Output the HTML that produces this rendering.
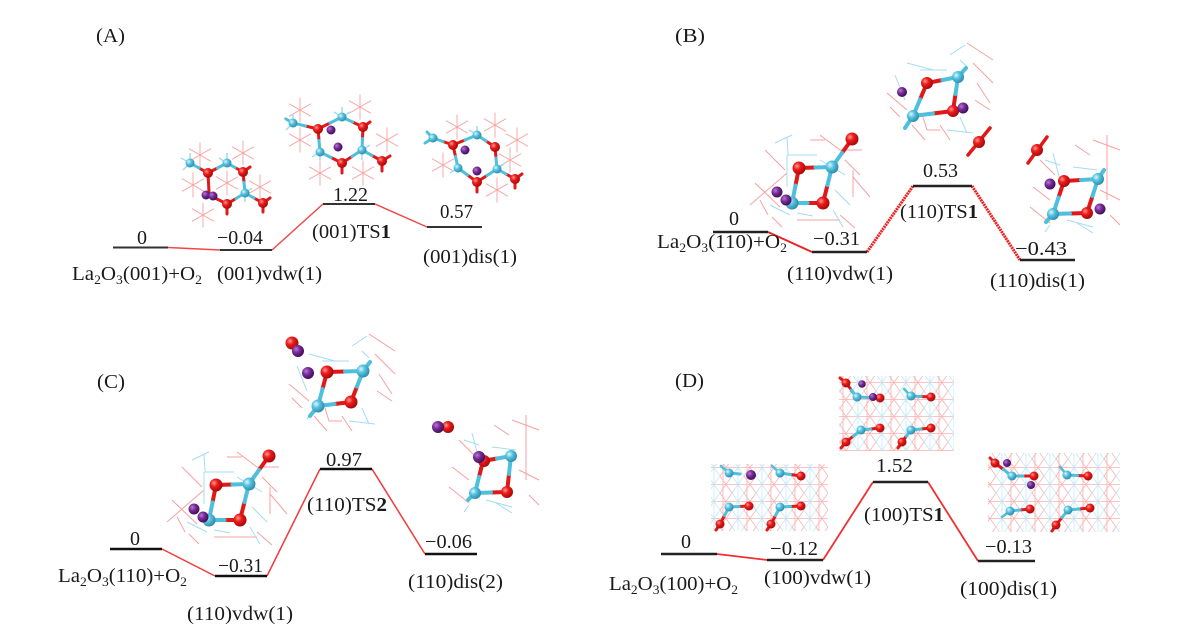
<!DOCTYPE html>
<html>
<head>
<meta charset="utf-8">
<style>
html,body{margin:0;padding:0;background:#fff;}
svg{display:block;}
text{font-family:"Liberation Serif","DejaVu Serif",serif;font-size:20px;fill:#1a1a1a;}
</style>
</head>
<body>
<svg width="1190" height="631" viewBox="0 0 1190 631" xmlns="http://www.w3.org/2000/svg">
<defs>
  <radialGradient id="gO" cx="35%" cy="35%" r="70%">
    <stop offset="0" stop-color="#ff9a90"/><stop offset="0.4" stop-color="#ee1a1a"/><stop offset="1" stop-color="#a00808"/>
  </radialGradient>
  <radialGradient id="gC" cx="35%" cy="35%" r="70%">
    <stop offset="0" stop-color="#e0f8ff"/><stop offset="0.4" stop-color="#58c4e0"/><stop offset="1" stop-color="#2a88a8"/>
  </radialGradient>
  <radialGradient id="gP" cx="35%" cy="35%" r="70%">
    <stop offset="0" stop-color="#b878d8"/><stop offset="0.45" stop-color="#742a92"/><stop offset="1" stop-color="#3c0c55"/>
  </radialGradient>
  <g id="st"><path d="M0,-12.5 V12.5 M-11,-6.3 L11,6.3 M-11,6.3 L11,-6.3" stroke="#f7a8a8" stroke-width="1" fill="none"/></g>
  <pattern id="grid" width="24" height="17" patternUnits="userSpaceOnUse">
    <path d="M0,0 L12,17 M12,0 L0,17 M0,8.5 H24 M3,0 V17" stroke="#f5a0a0" stroke-width="0.8" fill="none"/>
    <path d="M12,0 L24,17 M24,0 L12,17 M18,0 V17" stroke="#b4e2f4" stroke-width="0.8" fill="none"/>
  </pattern>

  <g id="vdw110">
    <path d="M750,205 L787,173 M755,183 L780,207 M820,135 L840,150 L862,150 M853,177 L870,197 M853,170 L853,197 M797,220 L840,220 M772,217 L782,227 M765,150 L785,170 M760,200 L768,215 M845,160 L860,175 M810,140 L825,140 M840,215 L855,228" stroke="#f7a0a0" stroke-width="1" fill="none"/>
    <path d="M775,143 L792,135 M787,137 L788,155 L817,155 M787,155 L787,187 M833,210 L843,227 M797,213 L813,216 M820,160 L845,175 M835,190 L850,205 M770,205 L790,215" stroke="#a4dcf2" stroke-width="1" fill="none"/>
    <path d="M852,139 L842,153 M799,168 L815.5,167.5 M799,168 L795.5,185.5 M823,203 L807.5,203 M823,203 L827.5,185" stroke="#e01818" stroke-width="4" stroke-linecap="round" fill="none"/>
    <path d="M832,167 L842,153 M832,167 L815.5,167.5 M792,203 L795.5,185.5 M792,203 L807.5,203 M832,167 L827.5,185" stroke="#4ebfdc" stroke-width="4" stroke-linecap="round" fill="none"/>
    <circle cx="852" cy="139" r="6.5" fill="url(#gO)"/>
    <circle cx="832" cy="167" r="6.5" fill="url(#gC)"/>
    <circle cx="799" cy="168" r="6.5" fill="url(#gO)"/>
    <circle cx="823" cy="203" r="6.5" fill="url(#gO)"/>
    <circle cx="792" cy="203" r="6.5" fill="url(#gC)"/>
    <circle cx="777" cy="192" r="5.5" fill="url(#gP)"/>
    <circle cx="786" cy="200" r="5.5" fill="url(#gP)"/>
  </g>
  <g id="tswire">
    <path d="M887,93 L907,110 M890,107 L900,117 M927,130 L940,130 M977,83 L990,103 M967,43 L993,60 M973,63 L993,83 M923,117 L927,130 M912,125 L925,140 M975,100 L990,110 M940,125 L950,140" stroke="#f7a0a0" stroke-width="1" fill="none"/>
    <path d="M907,63 L933,70 M920,70 L947,70 M960,60 L967,67 M947,130 L973,133 M960,117 L967,133 M895,75 L905,100 M950,55 L965,45 M905,128 L913,116" stroke="#a4dcf2" stroke-width="1" fill="none"/>
  </g>
  <g id="diswire">
    <path d="M1093,140 L1120,150 M1107,135 L1107,200 M1033,187 L1050,200 M1030,207 L1050,223 M1040,160 L1055,175 M1100,190 L1120,200 M1075,145 L1090,155 M1110,215 L1120,225" stroke="#f7a0a0" stroke-width="1" fill="none"/>
    <path d="M1053,153 L1060,180 M1073,167 L1097,170 M1067,220 L1093,227 M1077,223 L1093,233 M1050,225 L1045,232 M1060,165 L1045,160" stroke="#a4dcf2" stroke-width="1" fill="none"/>
  </g>
</defs>

<!-- ================= PANEL A ================= -->
<text x="96" y="42" textLength="29" lengthAdjust="spacingAndGlyphs">(A)</text>

<use href="#st" x="200" y="155"/><use href="#st" x="243" y="153"/><use href="#st" x="193" y="185"/>
<use href="#st" x="227" y="183"/><use href="#st" x="260" y="187"/><use href="#st" x="203" y="215"/>
<path d="M190,163 L181,158 M190,163 L190,153 M190,163 L183,170 M227,163 L227,153 M227,163 L219,158 M245,193 L252,188 M245,193 L245,202" stroke="#a4dcf2" stroke-width="1.5" fill="none"/>
<path d="M208,173 L199,168 M208,173 L217.5,168 M243,172 L235,167.5 M243,172 L244,182.5 M208,173 L209,192 M215,198 L227,204 M227,204 L236,198.5 M263,203 L254,198 M227,204 L227,214 M263,203 L263,212 M263,203 L270,198 M243,172 L250,167" stroke="#e01818" stroke-width="3" stroke-linecap="round" fill="none"/>
<path d="M190,163 L199,168 M227,163 L217.5,168 M227,163 L235,167.5 M245,193 L244,182.5 M245,193 L236,198.5 M245,193 L254,198" stroke="#4ebfdc" stroke-width="3" stroke-linecap="round" fill="none"/>
<circle cx="190" cy="163" r="4.5" fill="url(#gC)"/><circle cx="227" cy="163" r="4.5" fill="url(#gC)"/>
<circle cx="245" cy="193" r="4.5" fill="url(#gC)"/>
<circle cx="208" cy="173" r="5" fill="url(#gO)"/><circle cx="243" cy="172" r="5" fill="url(#gO)"/>
<circle cx="227" cy="204" r="5" fill="url(#gO)"/><circle cx="263" cy="203" r="5" fill="url(#gO)"/>
<circle cx="206" cy="195" r="4.5" fill="url(#gP)"/><circle cx="213" cy="196" r="4.5" fill="url(#gP)"/>

<use href="#st" x="300" y="110"/><use href="#st" x="360" y="107"/><use href="#st" x="387" y="140"/>
<use href="#st" x="300" y="140"/><use href="#st" x="320" y="173"/><use href="#st" x="363" y="173"/>
<path d="M293,123 L284,118 M293,123 L293,114 M293,123 L286,130 M342,117 L342,107 M342,117 L334,112 M342,117 L350,112 M320,152 L312,157 M320,152 L320,160 M362,150 L370,145 M362,150 L362,160" stroke="#a4dcf2" stroke-width="1.5" fill="none"/>
<path d="M318,129 L305.5,126 M318,129 L330,123 M363,127 L352.5,122 M363,127 L362.5,138.5 M342,163 L352,156.5 M342,163 L331,157.5 M318,129 L319,140.5 M382,161 L372,155.5 M342,163 L342,173 M382,161 L390,156 M382,161 L382,171 M363,127 L370,122" stroke="#e01818" stroke-width="3" stroke-linecap="round" fill="none"/>
<path d="M293,123 L305.5,126 M342,117 L330,123 M342,117 L352.5,122 M362,150 L362.5,138.5 M362,150 L352,156.5 M320,152 L331,157.5 M320,152 L319,140.5 M362,150 L372,155.5 M293,123 L286,119" stroke="#4ebfdc" stroke-width="3" stroke-linecap="round" fill="none"/>
<circle cx="293" cy="123" r="4.5" fill="url(#gC)"/><circle cx="342" cy="117" r="4.5" fill="url(#gC)"/>
<circle cx="320" cy="152" r="4.5" fill="url(#gC)"/><circle cx="362" cy="150" r="4.5" fill="url(#gC)"/>
<circle cx="318" cy="129" r="5" fill="url(#gO)"/><circle cx="363" cy="127" r="5" fill="url(#gO)"/>
<circle cx="342" cy="163" r="5" fill="url(#gO)"/><circle cx="382" cy="161" r="5" fill="url(#gO)"/>
<circle cx="331" cy="130" r="4.5" fill="url(#gP)"/><circle cx="338" cy="147" r="4.5" fill="url(#gP)"/>

<use href="#st" x="457" y="127"/><use href="#st" x="495" y="125"/><use href="#st" x="510" y="160"/>
<use href="#st" x="443" y="165"/><use href="#st" x="497" y="190"/><use href="#st" x="517" y="140"/>
<path d="M477,135 L477,126 M477,135 L469,130 M458,168 L450,173 M497,169 L505,163" stroke="#a4dcf2" stroke-width="1.5" fill="none"/>
<path d="M453,145 L443,141.5 M453,145 L465,140 M495,147 L486,141 M495,147 L496,158 M477,182 L487,175.5 M477,182 L467.5,175 M453,145 L455.5,156.5 M515,179 L506,174 M477,182 L477,192 M515,179 L522,174 M515,179 L515,188" stroke="#e01818" stroke-width="3" stroke-linecap="round" fill="none"/>
<path d="M433,138 L443,141.5 M477,135 L465,140 M477,135 L486,141 M497,169 L496,158 M497,169 L487,175.5 M458,168 L467.5,175 M458,168 L455.5,156.5 M497,169 L506,174 M433,138 L425,143 M433,138 L427,132" stroke="#4ebfdc" stroke-width="3" stroke-linecap="round" fill="none"/>
<circle cx="433" cy="138" r="4.5" fill="url(#gC)"/><circle cx="477" cy="135" r="4.5" fill="url(#gC)"/>
<circle cx="458" cy="168" r="4.5" fill="url(#gC)"/><circle cx="497" cy="169" r="4.5" fill="url(#gC)"/>
<circle cx="453" cy="145" r="5" fill="url(#gO)"/><circle cx="495" cy="147" r="5" fill="url(#gO)"/>
<circle cx="477" cy="182" r="5" fill="url(#gO)"/><circle cx="515" cy="179" r="5" fill="url(#gO)"/>
<circle cx="465" cy="150" r="4.5" fill="url(#gP)"/><circle cx="477" cy="171" r="4.5" fill="url(#gP)"/>

<path d="M168,247.5 L220,250 M272,250 L323,204 M375,204 L427,227" stroke="#f04848" stroke-width="1.5" fill="none"/>
<path d="M113,247.5 H168 M220,250 H272 M323,204 H375 M427,227 H482" stroke="#333" stroke-width="2" fill="none"/>
<text x="137" y="244">0</text>
<text x="72" y="280" textLength="130" lengthAdjust="spacingAndGlyphs">La<tspan font-size="13" dy="4">2</tspan><tspan dy="-4">O</tspan><tspan font-size="13" dy="4">3</tspan><tspan dy="-4">(001)+O</tspan><tspan font-size="13" dy="4">2</tspan></text>
<text x="217" y="244" textLength="46" lengthAdjust="spacingAndGlyphs">−0.04</text>
<text x="217" y="280" textLength="105" lengthAdjust="spacingAndGlyphs">(001)vdw(1)</text>
<text x="333" y="201" textLength="35" lengthAdjust="spacingAndGlyphs">1.22</text>
<text x="312" y="238" textLength="79" lengthAdjust="spacingAndGlyphs">(001)TS<tspan font-weight="bold">1</tspan></text>
<text x="440" y="218" textLength="33" lengthAdjust="spacingAndGlyphs">0.57</text>
<text x="423" y="263" textLength="94" lengthAdjust="spacingAndGlyphs">(001)dis(1)</text>

<!-- ================= PANEL B ================= -->
<text x="675" y="42" textLength="30" lengthAdjust="spacingAndGlyphs">(B)</text>

<use href="#vdw110"/>

<use href="#tswire"/>
<path d="M968,155 L990,128" stroke="#e01818" stroke-width="3.5" stroke-linecap="round"/>
<path d="M927,83 L942.5,80 M953,111 L955.5,94 M953,111 L933,113.5 M927,83 L920,99.5" stroke="#e01818" stroke-width="4" stroke-linecap="round" fill="none"/>
<path d="M958,77 L942.5,80 M958,77 L955.5,94 M913,116 L933,113.5 M913,116 L920,99.5 M913,116 L905,128 M958,77 L966,68" stroke="#4ebfdc" stroke-width="4" stroke-linecap="round" fill="none"/>
<circle cx="927" cy="83" r="6" fill="url(#gO)"/><circle cx="958" cy="77" r="6" fill="url(#gC)"/>
<circle cx="913" cy="116" r="6" fill="url(#gC)"/><circle cx="953" cy="111" r="6" fill="url(#gO)"/>
<circle cx="963" cy="108" r="5.5" fill="url(#gP)"/><circle cx="902" cy="92" r="5" fill="url(#gP)"/>
<circle cx="979" cy="142" r="6" fill="url(#gO)"/>

<use href="#diswire"/>
<path d="M1028,163 L1047,137" stroke="#e01818" stroke-width="3.5" stroke-linecap="round"/>
<path d="M1064,181 L1081,180 M1087,213 L1092.5,196 M1087,213 L1070,213.5 M1064,181 L1058.5,197.5" stroke="#e01818" stroke-width="4" stroke-linecap="round" fill="none"/>
<path d="M1098,179 L1081,180 M1098,179 L1092.5,196 M1053,214 L1070,213.5 M1053,214 L1058.5,197.5 M1053,214 L1046,222 M1098,179 L1104,170" stroke="#4ebfdc" stroke-width="4" stroke-linecap="round" fill="none"/>
<circle cx="1037" cy="150" r="6" fill="url(#gO)"/>
<circle cx="1064" cy="181" r="6" fill="url(#gO)"/><circle cx="1098" cy="179" r="6" fill="url(#gC)"/>
<circle cx="1053" cy="214" r="6" fill="url(#gC)"/><circle cx="1087" cy="213" r="6" fill="url(#gO)"/>
<circle cx="1050" cy="184" r="5.5" fill="url(#gP)"/><circle cx="1100" cy="209" r="5.5" fill="url(#gP)"/>

<path d="M768,232 L812,252" stroke="#ee2222" stroke-width="2" fill="none"/>
<path d="M867,252 L913,186 M972,186 L1020,260" stroke="#ee2222" stroke-width="3" stroke-dasharray="2 0.7" fill="none"/>
<path d="M713,232 H768 M812,252 H867 M913,186 H972 M1020,260 H1075" stroke="#222" stroke-width="2.5" fill="none"/>
<text x="729" y="225">0</text>
<text x="657" y="248" textLength="130" lengthAdjust="spacingAndGlyphs">La<tspan font-size="13" dy="4">2</tspan><tspan dy="-4">O</tspan><tspan font-size="13" dy="4">3</tspan><tspan dy="-4">(110)+O</tspan><tspan font-size="13" dy="4">2</tspan></text>
<text x="813" y="245" textLength="47" lengthAdjust="spacingAndGlyphs">−0.31</text>
<text x="787" y="280" textLength="106" lengthAdjust="spacingAndGlyphs">(110)vdw(1)</text>
<text x="923" y="177" textLength="35" lengthAdjust="spacingAndGlyphs">0.53</text>
<text x="900" y="218" textLength="78" lengthAdjust="spacingAndGlyphs">(110)TS<tspan font-weight="bold">1</tspan></text>
<text x="1015" y="255" textLength="52" lengthAdjust="spacingAndGlyphs">−0.43</text>
<text x="990" y="287" textLength="95" lengthAdjust="spacingAndGlyphs">(110)dis(1)</text>

<!-- ================= PANEL C ================= -->
<text x="97" y="388" textLength="28" lengthAdjust="spacingAndGlyphs">(C)</text>

<use href="#vdw110" transform="translate(-583,317)"/>

<use href="#tswire" transform="translate(-598,291)"/>
<path d="M327,372 L345,371.5 M351,402 L357,386.5 M351,402 L334.5,404 M327,372 L322.5,389" stroke="#e01818" stroke-width="4" stroke-linecap="round" fill="none"/>
<path d="M363,371 L345,371.5 M363,371 L357,386.5 M318,406 L334.5,404 M318,406 L322.5,389 M318,406 L310,416 M363,371 L370,362" stroke="#4ebfdc" stroke-width="4" stroke-linecap="round" fill="none"/>
<circle cx="292" cy="343" r="6.5" fill="url(#gO)"/><circle cx="298" cy="351" r="6" fill="url(#gP)"/>
<circle cx="327" cy="372" r="6.5" fill="url(#gO)"/><circle cx="308" cy="373" r="6" fill="url(#gP)"/>
<circle cx="363" cy="371" r="6.5" fill="url(#gC)"/>
<circle cx="318" cy="406" r="6.5" fill="url(#gC)"/><circle cx="351" cy="402" r="6.5" fill="url(#gO)"/>

<use href="#diswire" transform="translate(-581,280)"/>
<path d="M483,461 L497,458.5 M507,492 L509,474 M507,492 L491,492.5 M483,461 L479,477" stroke="#e01818" stroke-width="4" stroke-linecap="round" fill="none"/>
<path d="M511,456 L497,458.5 M511,456 L509,474 M475,493 L491,492.5 M475,493 L479,477 M475,493 L468,500" stroke="#4ebfdc" stroke-width="4" stroke-linecap="round" fill="none"/>
<circle cx="448" cy="427" r="6" fill="url(#gO)"/><circle cx="438" cy="427" r="6" fill="url(#gP)"/>
<circle cx="484" cy="461" r="6" fill="url(#gO)"/><circle cx="479" cy="457" r="6" fill="url(#gP)"/>
<circle cx="511" cy="456" r="6" fill="url(#gC)"/>
<circle cx="475" cy="493" r="6" fill="url(#gC)"/><circle cx="507" cy="492" r="6" fill="url(#gO)"/>

<path d="M162,549 L215,576 M267,576 L320,469 M372,469 L425,554" stroke="#f03a3a" stroke-width="1.5" fill="none"/>
<path d="M110,549 H162 M215,576 H267 M320,469 H372 M425,554 H477" stroke="#111" stroke-width="2.6" fill="none"/>
<text x="130" y="545">0</text>
<text x="58" y="582" textLength="129" lengthAdjust="spacingAndGlyphs">La<tspan font-size="13" dy="4">2</tspan><tspan dy="-4">O</tspan><tspan font-size="13" dy="4">3</tspan><tspan dy="-4">(110)+O</tspan><tspan font-size="13" dy="4">2</tspan></text>
<text x="218" y="572" textLength="45" lengthAdjust="spacingAndGlyphs">−0.31</text>
<text x="187" y="620" textLength="106" lengthAdjust="spacingAndGlyphs">(110)vdw(1)</text>
<text x="326" y="466" textLength="36" lengthAdjust="spacingAndGlyphs">0.97</text>
<text x="307" y="511" textLength="80" lengthAdjust="spacingAndGlyphs">(110)TS<tspan font-weight="bold">2</tspan></text>
<text x="425" y="548" textLength="47" lengthAdjust="spacingAndGlyphs">−0.06</text>
<text x="408" y="588" textLength="95" lengthAdjust="spacingAndGlyphs">(110)dis(2)</text>

<!-- ================= PANEL D ================= -->
<text x="675" y="387" textLength="29" lengthAdjust="spacingAndGlyphs">(D)</text>

<rect x="839" y="376" width="115" height="75" fill="url(#grid)" opacity="0.8"/>
<path d="M911,396 L904,389 M857,397 L851,391" stroke="#4ebfdc" stroke-width="2.5" stroke-linecap="round"/>
<path d="M846,383 L851.5,390 M880,398 L868.5,397.5 M931,397 L921,396.5 M880,428 L870.5,429 M931,428 L921,429 M846,442 L853.5,436 M902,442 L906.5,436 M846,383 L840,378 M846,442 L841,448 M902,442 L898,448" stroke="#e01818" stroke-width="3" stroke-linecap="round" fill="none"/>
<path d="M857,397 L851.5,390 M857,397 L868.5,397.5 M911,396 L921,396.5 M861,430 L870.5,429 M911,430 L921,429 M861,430 L853.5,436 M911,430 L906.5,436" stroke="#4ebfdc" stroke-width="3" stroke-linecap="round" fill="none"/>
<circle cx="846" cy="383" r="4.5" fill="url(#gO)"/><circle cx="862" cy="384" r="3.8" fill="url(#gP)"/>
<circle cx="857" cy="397" r="4.5" fill="url(#gC)"/><circle cx="880" cy="398" r="4.5" fill="url(#gO)"/><circle cx="873" cy="397" r="4" fill="url(#gP)"/>
<circle cx="911" cy="396" r="4.5" fill="url(#gC)"/><circle cx="931" cy="397" r="4.5" fill="url(#gO)"/>
<circle cx="861" cy="430" r="4.5" fill="url(#gC)"/><circle cx="880" cy="428" r="4.5" fill="url(#gO)"/>
<circle cx="911" cy="430" r="4.5" fill="url(#gC)"/><circle cx="931" cy="428" r="4.5" fill="url(#gO)"/>
<circle cx="846" cy="442" r="4.5" fill="url(#gO)"/><circle cx="902" cy="442" r="4.5" fill="url(#gO)"/>

<rect x="711" y="464" width="117" height="67" fill="url(#grid)" opacity="0.8"/>
<path d="M729,473 L721,466 M780,473 L772,466" stroke="#4ebfdc" stroke-width="2.5" stroke-linecap="round"/>
<path d="M801,476 L790.5,474.5 M749,506 L739,506.5 M801,506 L790.5,506.5 M720,524 L724.5,515.5 M771,524 L775.5,515.5 M720,524 L716,530 M771,524 L767,530" stroke="#e01818" stroke-width="3" stroke-linecap="round" fill="none"/>
<path d="M729,473 L740,474 M780,473 L790.5,474.5 M729,507 L739,506.5 M780,507 L790.5,506.5 M729,507 L724.5,515.5 M780,507 L775.5,515.5" stroke="#4ebfdc" stroke-width="3" stroke-linecap="round" fill="none"/>
<circle cx="729" cy="473" r="4.5" fill="url(#gC)"/><circle cx="751" cy="475" r="5" fill="url(#gP)"/>
<circle cx="780" cy="473" r="4.5" fill="url(#gC)"/><circle cx="801" cy="476" r="4.5" fill="url(#gO)"/>
<circle cx="729" cy="507" r="4.5" fill="url(#gC)"/><circle cx="749" cy="506" r="4.5" fill="url(#gO)"/>
<circle cx="780" cy="507" r="4.5" fill="url(#gC)"/><circle cx="801" cy="506" r="4.5" fill="url(#gO)"/>
<circle cx="720" cy="524" r="4.5" fill="url(#gO)"/><circle cx="771" cy="524" r="4.5" fill="url(#gO)"/>

<rect x="988" y="453" width="132" height="79" fill="url(#grid)" opacity="0.8"/>
<path d="M1067,475 L1060,467 M1010,511 L1002,517" stroke="#4ebfdc" stroke-width="2.5" stroke-linecap="round"/>
<path d="M995,463 L1003.5,469.5 M1034,476 L1023,476 M1088,476 L1077.5,475.5 M1030,509 L1020,510 M1090,508 L1079,509 M1056,525 L1062,517.5 M995,463 L990,458 M1056,525 L1052,531" stroke="#e01818" stroke-width="3" stroke-linecap="round" fill="none"/>
<path d="M1012,476 L1003.5,469.5 M1012,476 L1023,476 M1067,475 L1077.5,475.5 M1010,511 L1020,510 M1068,510 L1079,509 M1068,510 L1062,517.5" stroke="#4ebfdc" stroke-width="3" stroke-linecap="round" fill="none"/>
<circle cx="995" cy="463" r="4.5" fill="url(#gO)"/><circle cx="1007" cy="463" r="4" fill="url(#gP)"/>
<circle cx="1012" cy="476" r="4.5" fill="url(#gC)"/><circle cx="1034" cy="476" r="4.5" fill="url(#gO)"/>
<circle cx="1031" cy="485" r="4" fill="url(#gP)"/>
<circle cx="1067" cy="475" r="4.5" fill="url(#gC)"/><circle cx="1088" cy="476" r="4.5" fill="url(#gO)"/>
<circle cx="1010" cy="511" r="4.5" fill="url(#gC)"/><circle cx="1030" cy="509" r="4.5" fill="url(#gO)"/>
<circle cx="1068" cy="510" r="4.5" fill="url(#gC)"/><circle cx="1090" cy="508" r="4.5" fill="url(#gO)"/>
<circle cx="1056" cy="525" r="4.5" fill="url(#gO)"/>

<path d="M717,554 L767,560 M823,560 L873,482 M928,482 L978,561" stroke="#f03030" stroke-width="1.8" fill="none"/>
<path d="M661,554 H717 M767,560 H823 M873,482 H928 M978,561 H1035" stroke="#222" stroke-width="2.4" fill="none"/>
<text x="681" y="548">0</text>
<text x="609" y="590" textLength="129" lengthAdjust="spacingAndGlyphs">La<tspan font-size="13" dy="4">2</tspan><tspan dy="-4">O</tspan><tspan font-size="13" dy="4">3</tspan><tspan dy="-4">(100)+O</tspan><tspan font-size="13" dy="4">2</tspan></text>
<text x="770" y="555" textLength="48" lengthAdjust="spacingAndGlyphs">−0.12</text>
<text x="764" y="584" textLength="107" lengthAdjust="spacingAndGlyphs">(100)vdw(1)</text>
<text x="876" y="472" textLength="37" lengthAdjust="spacingAndGlyphs">1.52</text>
<text x="864" y="521" textLength="80" lengthAdjust="spacingAndGlyphs">(100)TS<tspan font-weight="bold">1</tspan></text>
<text x="985" y="553" textLength="47" lengthAdjust="spacingAndGlyphs">−0.13</text>
<text x="960" y="595" textLength="97" lengthAdjust="spacingAndGlyphs">(100)dis(1)</text>
</svg>
</body>
</html>
